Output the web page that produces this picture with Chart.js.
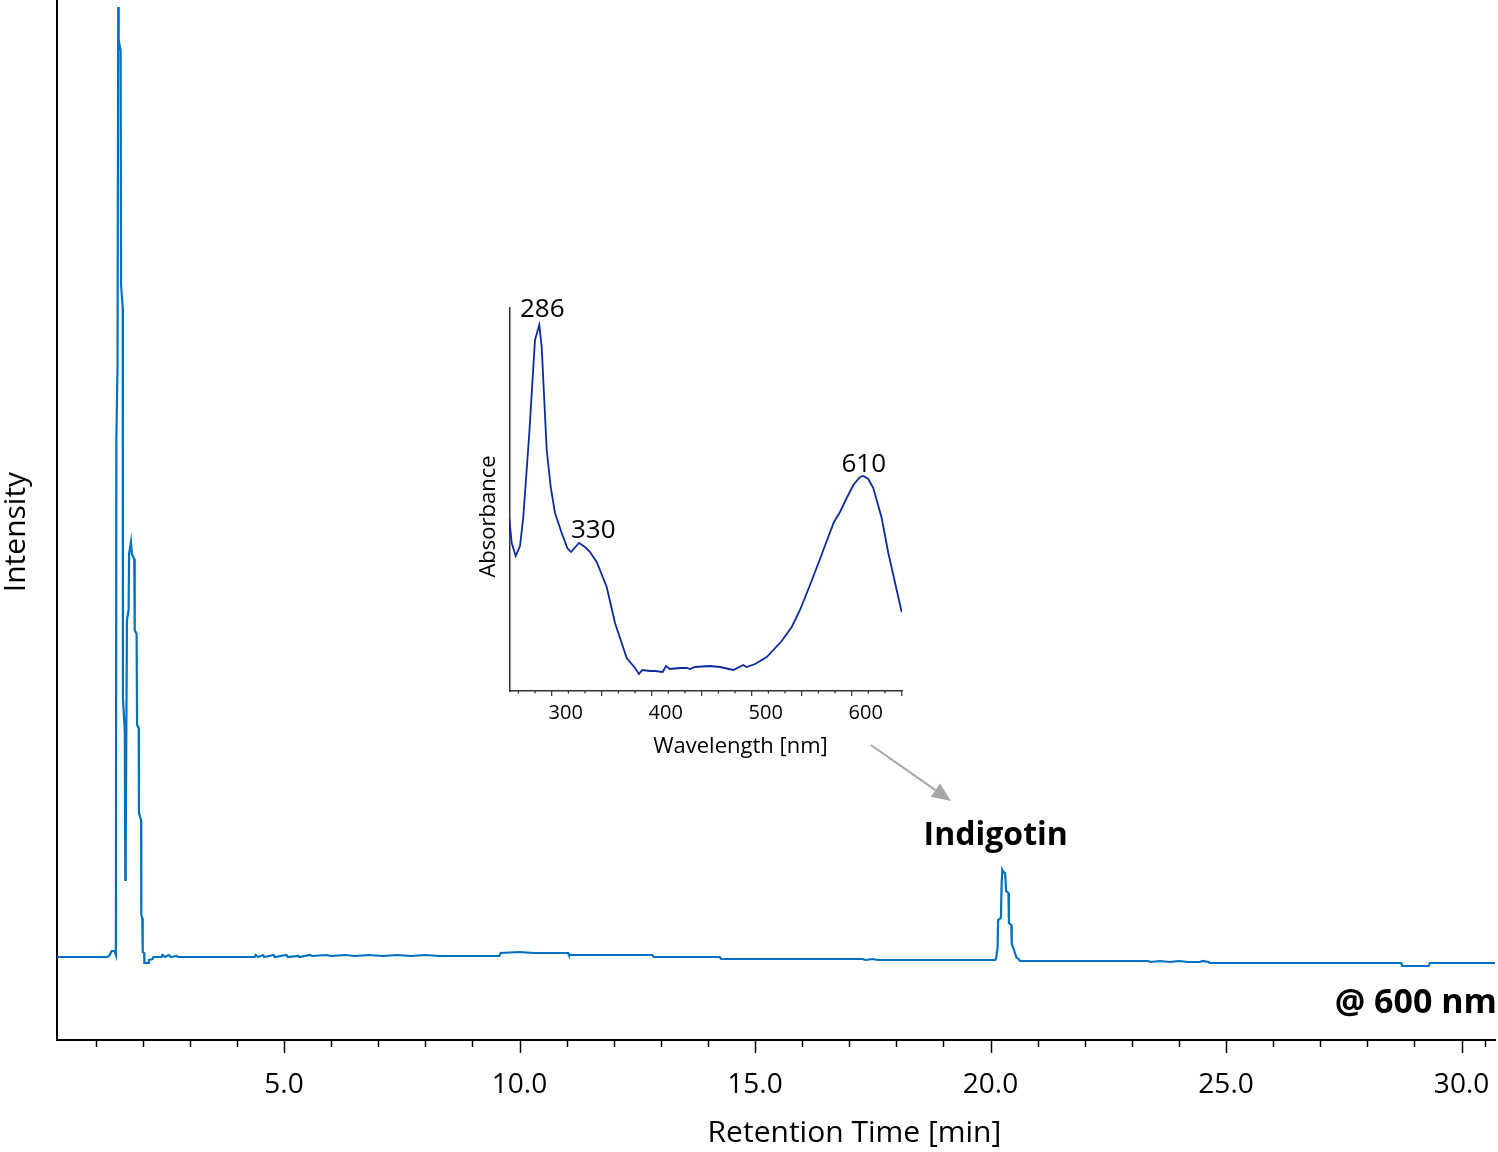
<!DOCTYPE html>
<html><head><meta charset="utf-8">
<script src="https://cdn.jsdelivr.net/npm/chart.js@4.4.1/dist/chart.umd.min.js"></script>
<style>
html,body{margin:0;padding:0;background:#fff;}
#wrap{position:relative;width:1498px;height:1152px;background:#fff;}
#main{position:absolute;left:0;top:0;}
#inset{position:absolute;left:440px;top:280px;}
</style></head><body>
<div id="wrap"><canvas id="main" width="1498" height="1152"></canvas><canvas id="inset" width="500" height="500"></canvas></div>
<script>
// ---- Chromatogram @ 600 nm (retention time in min, intensity in arbitrary units) ----
const mainTimes = [0.18,1.25,1.30,1.34,1.40,1.43,1.44,1.465,1.48,1.49,1.53,1.54,1.575,1.58,1.62,1.63,1.64,1.665,1.70,1.71,1.75,1.77,1.82,1.83,1.87,1.88,1.915,1.92,1.965,1.97,1.99,2.00,2.03,2.035,2.12,2.13,2.21,2.225,
  2.40,2.42,2.48,2.55,2.60,2.72,2.75,4.38,4.40,4.45,4.55,4.58,4.78,4.80,5.05,5.08,5.30,5.33,5.55,5.60,5.90,6.00,6.30,6.50,6.80,7.10,7.40,7.70,8.00,8.30,8.52,
  8.55,9.57,9.60,10.0,10.3,10.9,11.03,11.05,12.82,12.85,14.25,14.28,17.28,17.35,17.5,17.6,17.82,
  20.10,20.12,20.15,20.16,20.22,20.235,20.25,20.27,20.31,20.33,20.38,20.39,20.44,20.45,20.50,20.545,20.61,20.63,
  23.34,23.40,23.60,23.80,24.00,24.20,24.45,24.50,24.63,24.66,28.72,28.74,29.30,29.33,30.71];
const mainIntensity = [83,83,85,89,89,85,600,674,1033,1000,989,755,732,342,308,160,200,420,430,486,498,486,481,410,406,315,312,227,220,125,122,88,87,77,77,80,81,83,
  83,85,83,85,83,84,83,83,85,83,85,83,85,83,85,83,84,83,85,84,85,84,85,84,85,84,85,84,85,84,84,
  84,84,87,88,87,87,87,85,85,83,83,81,81,80,81,80,80,
  80,82,93,120,122,156,170,168,167,149,147,117,115,96,90,83,80,79,
  79,78,79,78,79,78,78,79,78,77,77,74,74,77,77];
const mainTickValues = [1,2,3,4,5,6,7,8,9,10,11,12,13,14,15,16,17,18,19,20,21,22,23,24,25,26,27,28,29,30,30.5];
const mainLabelValues = [5,10,15,20,25,30];
const mainLabelTexts = ['5.0','10.0','15.0','20.0','25.0','30.0'];

// ---- Inset UV-Vis spectrum of indigotin ----
const insetWavelength = [243.6,246,250,254.3,257.6,263.6,269.3,273.6,276,281,285,289.3,296,301.6,305.3,313.3,319.3,324.3,331,341,349.3,361,369.3,373.3,376.6,384.3,389.3,397,400.3,404.3,414.3,421,424.3,429.3,444.3,454.3,467.6,477.6,481,489.3,501,516,526,534.3,544.3,554.3,561,568.3,574.3,581,587.6,594.3,597.6,602.6,607.6,616,622.6,636];
const insetAbsorbance = [173,148,135,145,174,258,351,366,344,241,204,178,158,143,139,148,144,139,129,104,68,33,23,17,21,20,20,19,25,22,23,23,22,24,25,24,21,26,24,27,34,50,64,81,106,132,150,169,179,193,206,214,215,212,203,173,138,79];
const insetLabelValues = [300,400,500,600];
const insetLabelTexts = ['300','400','500','600'];
const insetMajorTicks = [286,336,386,436,486,536,586,636];
const insetMinorTicks = [252.7,269.3,302.7,319.3,352.7,369.3,402.7,419.3,452.7,469.3,502.7,519.3,552.7,569.3,602.7,619.3];
const peakTexts = ['286','330','610'];

Chart.defaults.font.family = "'Open Sans', sans-serif";
Chart.defaults.color = '#000';

const FONT = "'Open Sans', sans-serif";

const mainDeco = {
  id: 'mainDeco',
  afterDraw(chart) {
    const ctx = chart.ctx, xs = chart.scales.x, ys = chart.scales.y, ca = chart.chartArea;
    ctx.save();
    // tick marks
    ctx.strokeStyle = '#000'; ctx.lineWidth = 1.5;
    xs.ticks.forEach(t => {
      const px = Math.round(xs.getPixelForValue(t.value)) + 0.5;
      const len = mainLabelValues.includes(t.value) ? 13 : 7;
      ctx.beginPath(); ctx.moveTo(px, ca.bottom); ctx.lineTo(px, ca.bottom + len); ctx.stroke();
    });
    ctx.fillStyle = '#000';
    // axis titles
    ctx.font = "30px " + FONT; ctx.textAlign = 'center'; ctx.textBaseline = 'middle';
    ctx.fillText('Retention Time [min]', xs.getPixelForValue(17.11), ca.bottom + 93);
    ctx.save();
    ctx.translate(16, ys.getPixelForValue(508));
    ctx.rotate(-Math.PI / 2);
    ctx.fillText('Intensity', 0, 0);
    ctx.restore();
    // annotations
    ctx.font = "bold 32px " + FONT; ctx.textBaseline = 'alphabetic'; ctx.textAlign = 'center';
    ctx.fillText('Indigotin', xs.getPixelForValue(20.11), ys.getPixelForValue(195));
    ctx.font = "bold 34px " + FONT; ctx.textAlign = 'right';
    ctx.fillText('@ 600 nm', xs.getPixelForValue(30.75), ys.getPixelForValue(27));
    // arrow from spectrum to peak
    const x1 = xs.getPixelForValue(17.46), y1 = ys.getPixelForValue(295);
    const x2 = xs.getPixelForValue(19.16), y2 = ys.getPixelForValue(239);
    const ang = Math.atan2(y2 - y1, x2 - x1), hl = 19, hw = 8;
    ctx.strokeStyle = '#a6a6a6'; ctx.fillStyle = '#a6a6a6'; ctx.lineWidth = 2;
    ctx.beginPath(); ctx.moveTo(x1, y1);
    ctx.lineTo(x2 - hl * Math.cos(ang), y2 - hl * Math.sin(ang)); ctx.stroke();
    ctx.beginPath(); ctx.moveTo(x2, y2);
    ctx.lineTo(x2 - hl * Math.cos(ang) + hw * Math.sin(ang), y2 - hl * Math.sin(ang) - hw * Math.cos(ang));
    ctx.lineTo(x2 - hl * Math.cos(ang) - hw * Math.sin(ang), y2 - hl * Math.sin(ang) + hw * Math.cos(ang));
    ctx.closePath(); ctx.fill();
    ctx.restore();
  }
};

new Chart(document.getElementById('main'), {
  type: 'scatter',
  data: { datasets: [{
    data: mainTimes.map((t, i) => ({ x: t, y: mainIntensity[i] })),
    showLine: true, borderColor: '#0070C0', borderWidth: 2.2, pointRadius: 0, tension: 0, fill: false
  }]},
  options: {
    responsive: false, animation: false, devicePixelRatio: 1,
    layout: { padding: { left: 0, right: 3, top: 0, bottom: 0 } },
    plugins: { legend: { display: false }, tooltip: { enabled: false } },
    scales: {
      x: {
        type: 'linear', min: 0.18, max: 30.71,
        grid: { display: false },
        border: { display: true, color: '#000', width: 2 },
        afterBuildTicks: s => { s.ticks = mainTickValues.map(v => ({ value: v })); },
        afterFit: s => { s.height = 112; s.paddingLeft = 0; s.paddingRight = 0; },
        ticks: { autoSkip: false, maxRotation: 0, padding: 20, font: { size: 28 },
          callback: v => { const i = mainLabelValues.indexOf(v); return i >= 0 ? mainLabelTexts[i] : ''; } }
      },
      y: {
        min: 0, max: 1040,
        grid: { display: false },
        border: { display: true, color: '#000', width: 2 },
        ticks: { display: false },
        afterFit: s => { s.width = 57; s.paddingTop = 0; s.paddingBottom = 0; }
      }
    }
  },
  plugins: [mainDeco]
});

const insetDeco = {
  id: 'insetDeco',
  afterDraw(chart) {
    const ctx = chart.ctx, xs = chart.scales.x, ys = chart.scales.y, ca = chart.chartArea;
    ctx.save();
    ctx.strokeStyle = '#333'; ctx.lineWidth = 1.2;
    insetMajorTicks.forEach(v => { const px = xs.getPixelForValue(v);
      ctx.beginPath(); ctx.moveTo(px, ca.bottom); ctx.lineTo(px, ca.bottom + 5); ctx.stroke(); });
    insetMinorTicks.forEach(v => { const px = xs.getPixelForValue(v);
      ctx.beginPath(); ctx.moveTo(px, ca.bottom); ctx.lineTo(px, ca.bottom + 2.5); ctx.stroke(); });
    ctx.fillStyle = '#000';
    ctx.font = "22px " + FONT; ctx.textAlign = 'center'; ctx.textBaseline = 'middle';
    ctx.fillText('Wavelength [nm]', xs.getPixelForValue(474.8), ca.bottom + 56);
    ctx.save();
    ctx.translate(ca.left - 21.3, ys.getPixelForValue(174.5));
    ctx.rotate(-Math.PI / 2);
    ctx.fillText('Absorbance', 0, 0);
    ctx.restore();
    ctx.font = "26px " + FONT; ctx.textBaseline = 'alphabetic';
    const anchors = [[276.6, 374.3], [327.6, 152.7], [598.1, 219.3]];
    peakTexts.forEach((t, i) => ctx.fillText(t, xs.getPixelForValue(anchors[i][0]), ys.getPixelForValue(anchors[i][1])));
    ctx.restore();
  }
};

new Chart(document.getElementById('inset'), {
  type: 'scatter',
  data: { datasets: [{
    data: insetWavelength.map((w, i) => ({ x: w, y: insetAbsorbance[i] })),
    showLine: true, borderColor: '#0B2B9E', borderWidth: 1.8, pointRadius: 0, tension: 0, fill: false
  }]},
  options: {
    responsive: false, animation: false, devicePixelRatio: 1,
    layout: { padding: { left: 0, right: 38, top: 28, bottom: 0 } },
    plugins: { legend: { display: false }, tooltip: { enabled: false } },
    scales: {
      x: {
        type: 'linear', min: 244.3, max: 636.3,
        grid: { display: false },
        border: { display: true, color: '#333', width: 1.5 },
        afterBuildTicks: s => { s.ticks = insetLabelValues.map(v => ({ value: v })); },
        afterFit: s => { s.height = 89; s.paddingLeft = 0; s.paddingRight = 0; },
        ticks: { autoSkip: false, maxRotation: 0, padding: 2, font: { size: 20 },
          callback: v => { const i = insetLabelValues.indexOf(v); return i >= 0 ? insetLabelTexts[i] : ''; } }
      },
      y: {
        min: 0, max: 383,
        grid: { display: false },
        border: { display: true, color: '#333', width: 1.5 },
        ticks: { display: false },
        afterFit: s => { s.width = 70; s.paddingTop = 0; s.paddingBottom = 0; }
      }
    }
  },
  plugins: [insetDeco]
});
</script>
</body></html>
